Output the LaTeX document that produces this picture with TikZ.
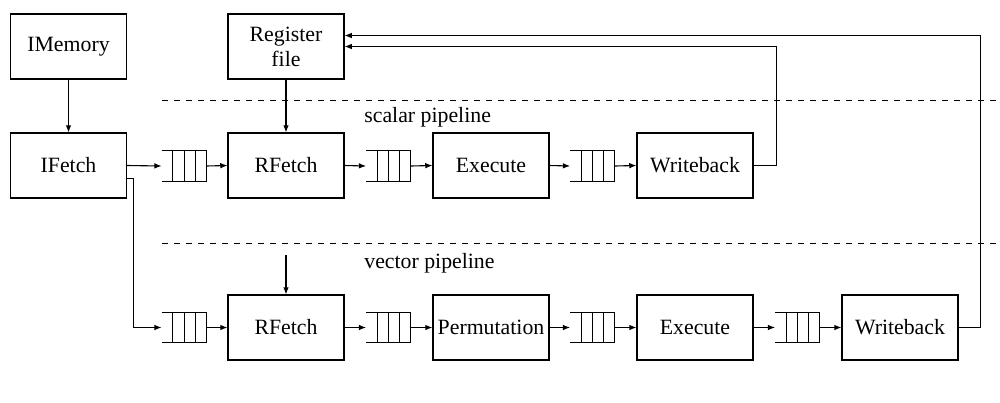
\documentclass[tikz,border=0pt]{standalone}
\usepackage{fontspec}
\setmainfont{Liberation Serif}
\newfontfamily\boxfont{Liberation Serif}
\usetikzlibrary{arrows.meta,calc}
\begin{document}
\begin{tikzpicture}[x=0.5pt,y=-0.5pt,
  every node/.style={font=\boxfont\fontsize{10.9}{12.5}\selectfont},
  blk/.style={draw, line width=0.55pt, minimum width=58pt, minimum height=32.5pt,
              inner sep=0pt},
  fifo/.style={minimum width=22pt, minimum height=15pt, inner sep=0pt},
  arr/.style={line width=0.55pt, -{Latex[length=3.6pt,width=2.8pt]}},
  sep/.style={line width=0.5pt, dashed},
  lbl/.style={anchor=west, inner sep=0pt}]
\useasboundingbox (0,0) rectangle (1000,402);

% memory and register file
\node[blk] (imem) at (68.5,46.5) {IMemory};
\node[blk, align=center] (reg) at (286,46.5) {Register\\file};

% scalar pipeline
\node[blk] (ifetch) at (68.5,165.5) {IFetch};
\node[fifo] (q1) at (184,166) {};
\node[blk] (rf1) at (286,165.5) {RFetch};
\node[fifo] (q2) at (388.5,166) {};
\node[blk] (ex1) at (491,165.5) {Execute};
\node[fifo] (q3) at (592.5,166) {};
\node[blk] (wb1) at (695,165.5) {Writeback};

% vector pipeline
\node[fifo] (q4) at (184,327.5) {};
\node[blk] (rf2) at (286,327.5) {RFetch};
\node[fifo] (q5) at (388.5,327.5) {};
\node[blk] (perm) at (491,327.5) {Permutation};
\node[fifo] (q6) at (592.5,327.5) {};
\node[blk] (ex2) at (695,327.5) {Execute};
\node[fifo] (q7) at (797.5,327.5) {};
\node[blk] (wb2) at (900,327.5) {Writeback};

% queue symbols: open on the left, three slots
\foreach \q in {q1,q2,q3,q4,q5,q6,q7}{
  \draw[line width=0.5pt] (\q.north west) -- (\q.north east) -- (\q.south east) -- (\q.south west);
  \foreach \f in {0.25,0.5,0.75}
    \draw[line width=0.5pt] ($(\q.north west)!\f!(\q.north east)$) -- ($(\q.south west)!\f!(\q.south east)$);
}

% pipeline separators and labels
\coordinate (s1a) at (162,100); \coordinate (s1b) at (1000,100);
\coordinate (s2a) at (162,243); \coordinate (s2b) at (1000,243);
\draw[sep] (s1a) -- (s1b);
\draw[sep] (s2a) -- (s2b);
\node[lbl] (lsc) at (364,117) {scalar pipeline};
\node[lbl] (lvc) at (364,263) {vector pipeline};

% connectors
\draw[arr] (imem) -- (ifetch);
\draw[arr] (reg) -- (rf1);
\coordinate (vin) at (286,255);
\draw[arr] (vin) -- (rf2);

\draw[arr] (ifetch.east) -- (q1.west);
\draw[arr] (q1.east) -- (rf1.west);
\draw[arr] (rf1.east) -- (q2.west);
\draw[arr] (q2.east) -- (ex1.west);
\draw[arr] (ex1.east) -- (q3.west);
\draw[arr] (q3.east) -- (wb1.west);

\draw[arr] ([yshift=-6.5pt]ifetch.east) -- ++(3pt,0) |- (q4.west);
\draw[arr] (q4.east) -- (rf2.west);
\draw[arr] (rf2.east) -- (q5.west);
\draw[arr] (q5.east) -- (perm.west);
\draw[arr] (perm.east) -- (q6.west);
\draw[arr] (q6.east) -- (ex2.west);
\draw[arr] (ex2.east) -- (q7.west);
\draw[arr] (q7.east) -- (wb2.west);

% write-back paths to the register file
\draw[arr] (wb1.east) -- ++(11.5pt,0) |- (reg.east);
\draw[arr] (wb2.east) -- ++(11pt,0) |- ([yshift=5.5pt]reg.east);
\end{tikzpicture}
\end{document}
